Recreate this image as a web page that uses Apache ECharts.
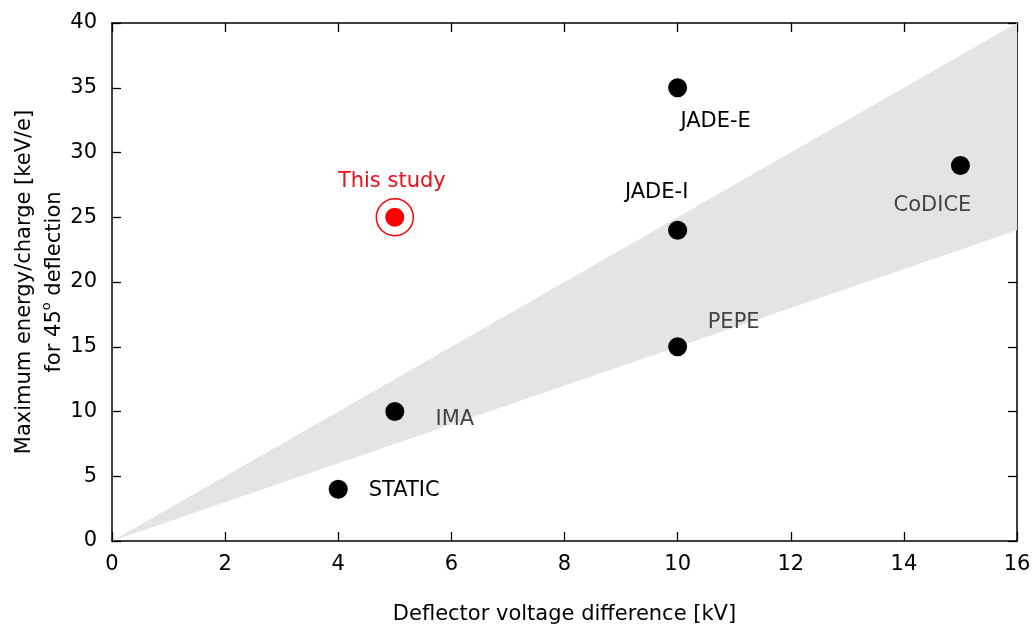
<!DOCTYPE html>
<html>
<head>
<meta charset="utf-8">
<script src="https://cdn.jsdelivr.net/npm/echarts@6/dist/echarts.min.js"></script>
<style>
  html, body { margin: 0; padding: 0; background: #fff; }
  #chart { width: 1035px; height: 628px; }
</style>
</head>
<body>
<div id="chart"></div>
<script>
// instruments: deflector voltage [kV] vs max E/q [keV/e]
var names = ['STATIC', 'IMA', 'PEPE', 'JADE-I', 'JADE-E', 'CoDICE'];
var voltage = [4, 5, 10, 10, 10, 15];
var energy = [4, 10, 15, 24, 35, 29];

var studyName = 'This study';
var studyVoltage = [5];
var studyEnergy = [25];

// shaded band between two lines through origin
var bandX = [0, 16];
var bandLow = [0, 24];
var bandHigh = [0, 40];

var xTicks = [0, 2, 4, 6, 8, 10, 12, 14, 16];
var yTicks = [0, 5, 10, 15, 20, 25, 30, 35, 40];

// label placement for each instrument
var labelOffsets = {
  'STATIC': [66, 1],
  'IMA': [60, 8],
  'PEPE': [56, -24],
  'JADE-I': [-21, -38],
  'JADE-E': [38, 34],
  'CoDICE': [-28, 40]
};
var labelColors = {
  'STATIC': '#000', 'IMA': '#444', 'PEPE': '#444',
  'JADE-I': '#000', 'JADE-E': '#000', 'CoDICE': '#444'
};

var font = 'DejaVu Sans';
var fs = 21;

var pts = names.map(function (n, i) {
  return {
    name: n,
    value: [voltage[i], energy[i]],
    label: {
      show: true,
      formatter: n,
      position: 'inside',
      offset: labelOffsets[n],
      color: labelColors[n],
      fontSize: fs,
      fontFamily: font
    }
  };
});

var chart = echarts.init(document.getElementById('chart'));

var baseX = {
  type: 'value', min: 0, max: 16, interval: 2,
  axisLine: { show: true, onZero: false, lineStyle: { color: '#000', width: 1.5 } },
  axisTick: { show: true, inside: true, length: 9, lineStyle: { color: '#000', width: 1.3 } },
  splitLine: { show: false }
};
var baseY = {
  type: 'value', min: 0, max: 40, interval: 5,
  axisLine: { show: true, onZero: false, lineStyle: { color: '#000', width: 1.5 } },
  axisTick: { show: true, inside: true, length: 9, lineStyle: { color: '#000', width: 1.3 } },
  splitLine: { show: false }
};

chart.setOption({
  animation: false,
  textStyle: { fontFamily: font },
  grid: { left: 112, right: 18, top: 23, bottom: 87, containLabel: false, outerBoundsMode: 'none' },
  xAxis: [
    Object.assign({}, baseX, {
      position: 'bottom',
      name: 'Deflector voltage difference [kV]',
      nameLocation: 'middle',
      nameGap: 63,
      nameMoveOverlap: false,
      nameTextStyle: { fontSize: fs, color: '#000', fontFamily: font },
      axisLabel: {
        margin: 13, fontSize: fs, color: '#000', fontFamily: font,
        formatter: function (v) { return xTicks.indexOf(v) >= 0 ? String(v) : ''; }
      }
    }),
    Object.assign({}, baseX, { position: 'top', axisLabel: { show: false } })
  ],
  yAxis: [
    Object.assign({}, baseY, {
      position: 'left',
      name: 'Maximum energy/charge [keV/e]\nfor 45{sup|o} deflection',
      nameLocation: 'middle',
      nameGap: 42,
      nameMoveOverlap: false,
      nameTextStyle: {
        fontSize: fs, color: '#000', fontFamily: font, lineHeight: 30,
        rich: { sup: { fontSize: 13, verticalAlign: 'top', lineHeight: 30, padding: [0, 0, 10, 0] } }
      },
      axisLabel: {
        margin: 15, fontSize: fs, color: '#000', fontFamily: font,
        formatter: function (v) { return yTicks.indexOf(v) >= 0 ? String(v) : ''; }
      }
    }),
    Object.assign({}, baseY, { position: 'right', axisLabel: { show: false } })
  ],
  series: [
    {
      type: 'custom',
      xAxisIndex: 0, yAxisIndex: 0,
      silent: true,
      z: 1,
      data: [0],
      renderItem: function (params, api) {
        var poly = [
          api.coord([bandX[0], bandLow[0]]),
          api.coord([bandX[1], bandLow[1]]),
          api.coord([bandX[1], bandHigh[1]]),
          api.coord([bandX[0], bandHigh[0]])
        ];
        return {
          type: 'polygon',
          shape: { points: poly },
          style: { fill: '#e4e4e4' }
        };
      }
    },
    {
      type: 'scatter',
      xAxisIndex: 0, yAxisIndex: 0,
      z: 3,
      symbol: 'circle',
      symbolSize: 19,
      itemStyle: { color: '#000', opacity: 1 },
      data: pts
    },
    {
      type: 'scatter',
      xAxisIndex: 0, yAxisIndex: 0,
      z: 3,
      symbol: 'circle',
      symbolSize: 19,
      itemStyle: { color: '#ff0000', opacity: 1 },
      label: {
        show: true, formatter: studyName, position: 'inside', offset: [-3, -36],
        color: '#e8101a', fontSize: fs, fontFamily: font
      },
      data: studyVoltage.map(function (v, i) { return [v, studyEnergy[i]]; })
    },
    {
      type: 'scatter',
      xAxisIndex: 0, yAxisIndex: 0,
      z: 3,
      symbol: 'circle',
      symbolSize: 37,
      itemStyle: { color: 'rgba(0,0,0,0)', borderColor: '#ff0000', borderWidth: 1.5, opacity: 1 },
      data: studyVoltage.map(function (v, i) { return [v, studyEnergy[i]]; })
    }
  ]
});
</script>
</body>
</html>
